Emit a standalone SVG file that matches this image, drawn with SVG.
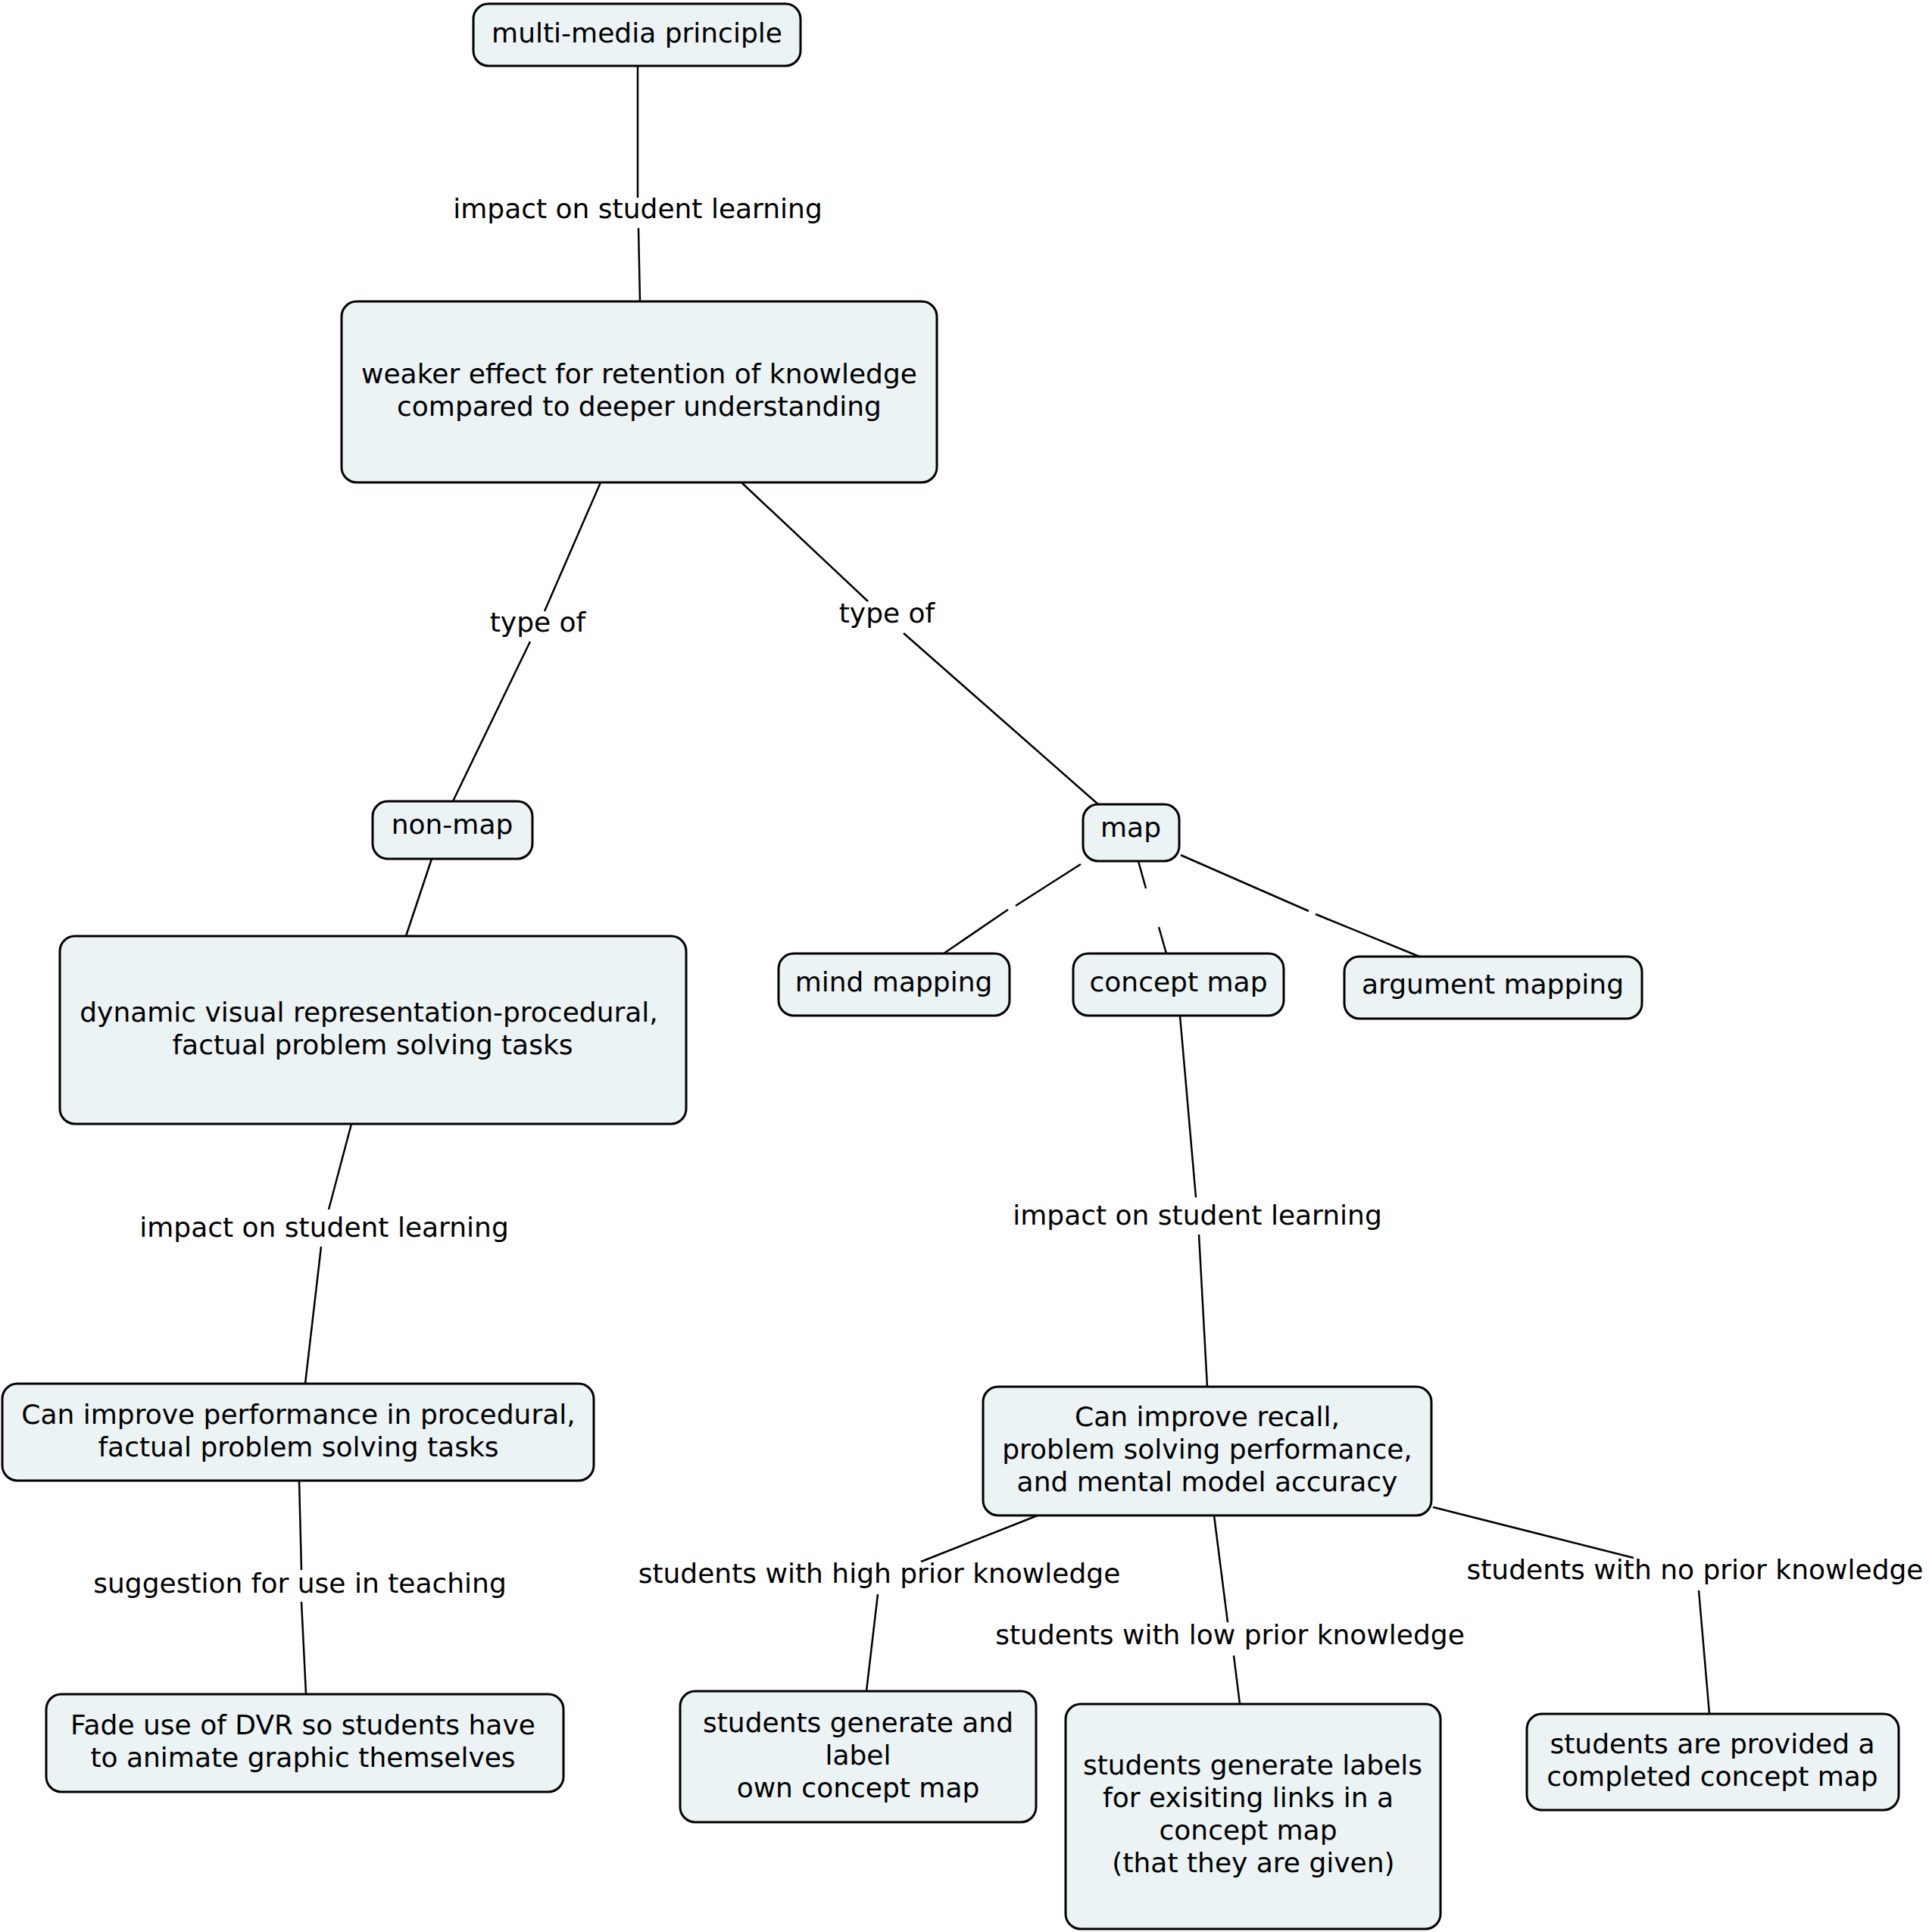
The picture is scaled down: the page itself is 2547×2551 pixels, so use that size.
<svg xmlns="http://www.w3.org/2000/svg" width="2547" height="2551" viewBox="0 0 2547 2551">
<style>
.n rect{fill:#ebf3f5;stroke:#000;stroke-width:3}
text{font-family:"DejaVu Sans","Verdana",sans-serif;font-size:36px;fill:#000;text-anchor:middle}
.c line{stroke:#000;stroke-width:2.5;stroke-linecap:butt}
</style>
<rect width="2547" height="2551" fill="#fff"/>
<g id="connectors" class="c">
<line x1="842" y1="87" x2="842" y2="261"/><line x1="843" y1="301" x2="845" y2="398"/>
<line x1="793" y1="637" x2="719" y2="807"/><line x1="700" y1="847" x2="598" y2="1058"/>
<line x1="979" y1="637" x2="1146" y2="794"/><line x1="1193" y1="836" x2="1450" y2="1062"/>
<line x1="570" y1="1134" x2="536" y2="1236"/>
<line x1="1427" y1="1141" x2="1341" y2="1196"/><line x1="1331" y1="1201" x2="1246" y2="1259"/>
<line x1="1503" y1="1137" x2="1513" y2="1173"/><line x1="1530" y1="1224" x2="1540" y2="1259"/>
<line x1="1559" y1="1129" x2="1728" y2="1203"/><line x1="1737" y1="1207" x2="1874" y2="1263"/>
<line x1="464" y1="1484" x2="434" y2="1597"/><line x1="424" y1="1646" x2="403" y2="1827"/>
<line x1="1558" y1="1341" x2="1579" y2="1581"/><line x1="1583" y1="1630" x2="1594" y2="1831"/>
<line x1="395" y1="1955" x2="398" y2="2073"/><line x1="398" y1="2115" x2="404" y2="2237"/>
<line x1="1370" y1="2001" x2="1216" y2="2062"/><line x1="1159" y1="2105" x2="1144" y2="2233"/>
<line x1="1603" y1="2001" x2="1621" y2="2142"/><line x1="1629" y1="2186" x2="1637" y2="2250"/>
<line x1="1892" y1="1990" x2="2157" y2="2057"/><line x1="2243" y1="2100" x2="2257" y2="2263"/>
</g>
<g id="link-labels">
<text x="842" y="288">impact on student learning</text>
<text x="710" y="834">type of</text>
<text x="1171" y="822">type of</text>
<text x="428" y="1633">impact on student learning</text>
<text x="1581" y="1617">impact on student learning</text>
<text x="396" y="2103">suggestion for use in teaching</text>
<text x="1161" y="2090">students with high prior knowledge</text>
<text x="1624" y="2171">students with low prior knowledge</text>
<text x="2238" y="2085">students with no prior knowledge</text>
</g>
<g id="n1" class="n"><rect x="625" y="5" width="432" height="82" rx="20"/><text x="841" y="56">multi-media principle</text></g>
<g id="n2" class="n"><rect x="451" y="398" width="786" height="239" rx="20"/><text x="844" y="506">weaker effect for retention of knowledge</text><text x="844" y="549">compared to deeper understanding</text></g>
<g id="n3" class="n"><rect x="492" y="1058" width="211" height="76" rx="20"/><text x="597" y="1101">non-map</text></g>
<g id="n4" class="n"><rect x="1430" y="1062" width="127" height="75" rx="20"/><text x="1493" y="1105">map</text></g>
<g id="n5" class="n"><rect x="79" y="1236" width="827" height="248" rx="20"/><text x="487" y="1349">dynamic visual representation-procedural,</text><text x="492" y="1392">factual problem solving tasks</text></g>
<g id="n6" class="n"><rect x="1028" y="1259" width="305" height="82" rx="20"/><text x="1180" y="1309">mind mapping</text></g>
<g id="n7" class="n"><rect x="1417" y="1259" width="278" height="82" rx="20"/><text x="1556" y="1309">concept map</text></g>
<g id="n8" class="n"><rect x="1775" y="1263" width="393" height="82" rx="20"/><text x="1971" y="1312">argument mapping</text></g>
<g id="n9" class="n"><rect x="3" y="1827" width="781" height="128" rx="20"/><text x="394" y="1880">Can improve performance in procedural,</text><text x="394" y="1923">factual problem solving tasks</text></g>
<g id="n10" class="n"><rect x="1298" y="1831" width="592" height="170" rx="20"/><text x="1594" y="1883">Can improve recall,</text><text x="1594" y="1926">problem solving performance,</text><text x="1594" y="1969">and mental model accuracy</text></g>
<g id="n11" class="n"><rect x="61" y="2237" width="683" height="129" rx="20"/><text x="400" y="2290">Fade use of DVR so students have</text><text x="400" y="2333">to animate graphic themselves</text></g>
<g id="n12" class="n"><rect x="898" y="2233" width="470" height="173" rx="20"/><text x="1133" y="2287">students generate and</text><text x="1133" y="2330">label</text><text x="1133" y="2373">own concept map</text></g>
<g id="n13" class="n"><rect x="1407" y="2250" width="495" height="297" rx="20"/><text x="1654" y="2343">students generate labels</text><text x="1648" y="2386">for exisiting links in a</text><text x="1648" y="2429">concept map</text><text x="1655" y="2472">(that they are given)</text></g>
<g id="n14" class="n"><rect x="2016" y="2263" width="491" height="127" rx="20"/><text x="2261" y="2315">students are provided a</text><text x="2261" y="2358">completed concept map</text></g>
</svg>
